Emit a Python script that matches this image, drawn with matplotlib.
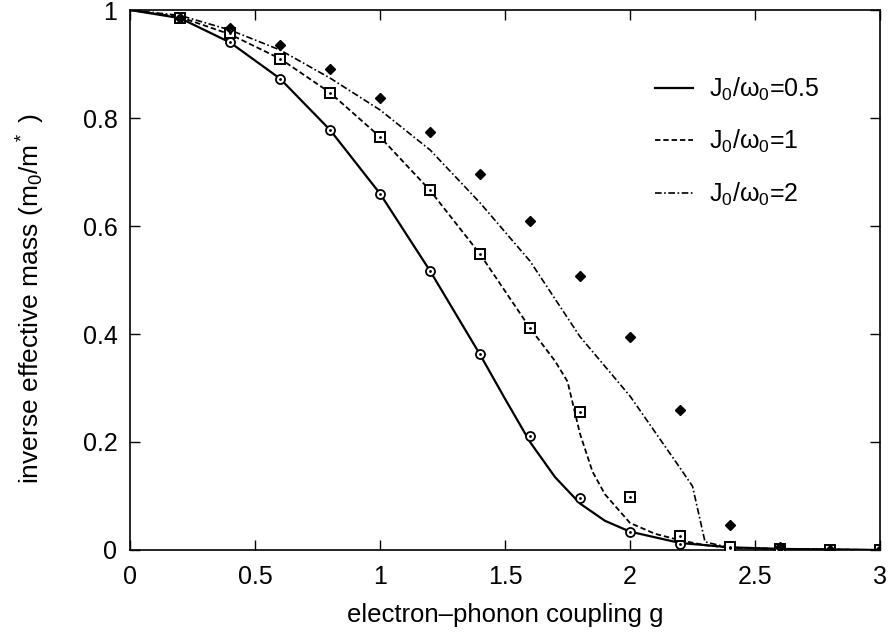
import numpy as np
import matplotlib
matplotlib.use("Agg")
import matplotlib.pyplot as plt
from matplotlib.ticker import FormatStrFormatter

plt.rcParams["font.family"] = ["Liberation Sans", "DejaVu Sans"]
plt.rcParams["mathtext.fontset"] = "custom"
plt.rcParams["mathtext.rm"] = "Liberation Sans"
plt.rcParams["mathtext.it"] = "Liberation Sans"

# simulation points (g values shared by all three sets)
g_pts = [0.2, 0.4, 0.6, 0.8, 1.0, 1.2, 1.4, 1.6, 1.8, 2.0, 2.2, 2.4, 2.6, 2.8, 3.0]
mass_j05 = [0.985, 0.940, 0.873, 0.778, 0.659, 0.517, 0.363, 0.212, 0.096, 0.034, 0.011, 0.003, 0.001, 0.0, 0.0]
mass_j1 = [0.985, 0.957, 0.910, 0.847, 0.765, 0.666, 0.548, 0.411, 0.256, 0.099, 0.026, 0.005, 0.002, 0.0, 0.0]
mass_j2 = [0.985, 0.966, 0.936, 0.890, 0.837, 0.774, 0.696, 0.609, 0.508, 0.395, 0.259, 0.046, 0.005, 0.0, 0.0]

# approximate curves
g_j05 = [0.0, 0.2, 0.4, 0.6, 0.8, 1.0, 1.2, 1.4, 1.5, 1.6, 1.7, 1.8, 1.9, 2.0, 2.2, 2.4, 2.6, 2.8, 3.0]
curve_j05 = [1.0, 0.985, 0.940, 0.873, 0.778, 0.660, 0.517, 0.362, 0.280, 0.200, 0.135, 0.086, 0.054, 0.034, 0.013, 0.005, 0.002, 0.001, 0.0]
g_j1 = [0.0, 0.2, 0.4, 0.6, 0.8, 1.0, 1.2, 1.4, 1.6, 1.7, 1.75, 1.8, 1.85, 1.9, 2.0, 2.1, 2.2, 2.3, 2.4, 2.6, 3.0]
curve_j1 = [1.0, 0.987, 0.955, 0.910, 0.847, 0.765, 0.666, 0.548, 0.411, 0.350, 0.312, 0.215, 0.145, 0.103, 0.050, 0.030, 0.018, 0.009, 0.004, 0.002, 0.0]
g_j2 = [0.0, 0.2, 0.4, 0.6, 0.8, 1.0, 1.2, 1.4, 1.6, 1.8, 2.0, 2.2, 2.25, 2.3, 2.4, 2.6, 3.0]
curve_j2 = [1.0, 0.990, 0.963, 0.926, 0.874, 0.815, 0.741, 0.643, 0.535, 0.395, 0.285, 0.152, 0.118, 0.015, 0.004, 0.002, 0.0]

labels = [r"J$_0$/$\omega_0$=0.5", r"J$_0$/$\omega_0$=1", r"J$_0$/$\omega_0$=2"]

fig = plt.figure(figsize=(8.91, 6.34), dpi=100)
ax = fig.add_axes([0.1459, 0.1325, 0.8418, 0.8517])

ax.plot(g_j05, curve_j05, color="black", lw=1.6, ls="-", label=labels[0])
ax.plot(g_j1, curve_j1, color="black", lw=1.3, ls=(0, (3, 1.6)), label=labels[1])
ax.plot(g_j2, curve_j2, color="black", lw=1.2, ls=(0, (4, 1.5, 1, 1.5)), label=labels[2])

ax.plot(g_pts, mass_j05, ls="none", marker="o", ms=6.5, mfc="white", mec="black", mew=1.3, zorder=3)
ax.plot(g_pts, mass_j05, ls="none", marker=".", ms=2, color="black", zorder=4)
ax.plot(g_pts, mass_j1, ls="none", marker="s", ms=6.5, mfc="white", mec="black", mew=1.4, zorder=3)
ax.plot(g_pts, mass_j1, ls="none", marker=".", ms=2, color="black", zorder=4)
ax.plot(g_pts, mass_j2, ls="none", marker="D", ms=5.5, color="black", zorder=3)

ax.set_xlim(0, 3)
ax.set_ylim(0, 1)
ax.set_xticks(np.arange(0, 3.01, 0.5))
ax.set_yticks(np.arange(0, 1.01, 0.2))
ax.xaxis.set_major_formatter(FormatStrFormatter("%g"))
ax.yaxis.set_major_formatter(FormatStrFormatter("%g"))
ax.tick_params(direction="in", length=7, width=1, top=True, right=True, labelsize=18)
ax.tick_params(axis="x", pad=11)
ax.tick_params(axis="y", pad=9)
for s in ax.spines.values():
    s.set_linewidth(1.2)

ax.set_xlabel("electron\u2013phonon coupling g", fontsize=18.5, labelpad=10)
ax.set_ylabel(r"inverse effective mass (m$_0$/m$^*$ )", fontsize=19)
ax.yaxis.set_label_coords(-0.111, 0.465)

leg = ax.legend(loc="center left", bbox_to_anchor=(0.70, 0.756), frameon=False, fontsize=18,
                handlelength=1.5, labelspacing=1.0, handletextpad=0.65,
                borderpad=0, borderaxespad=0)

fig.savefig("out.png", dpi=100)
